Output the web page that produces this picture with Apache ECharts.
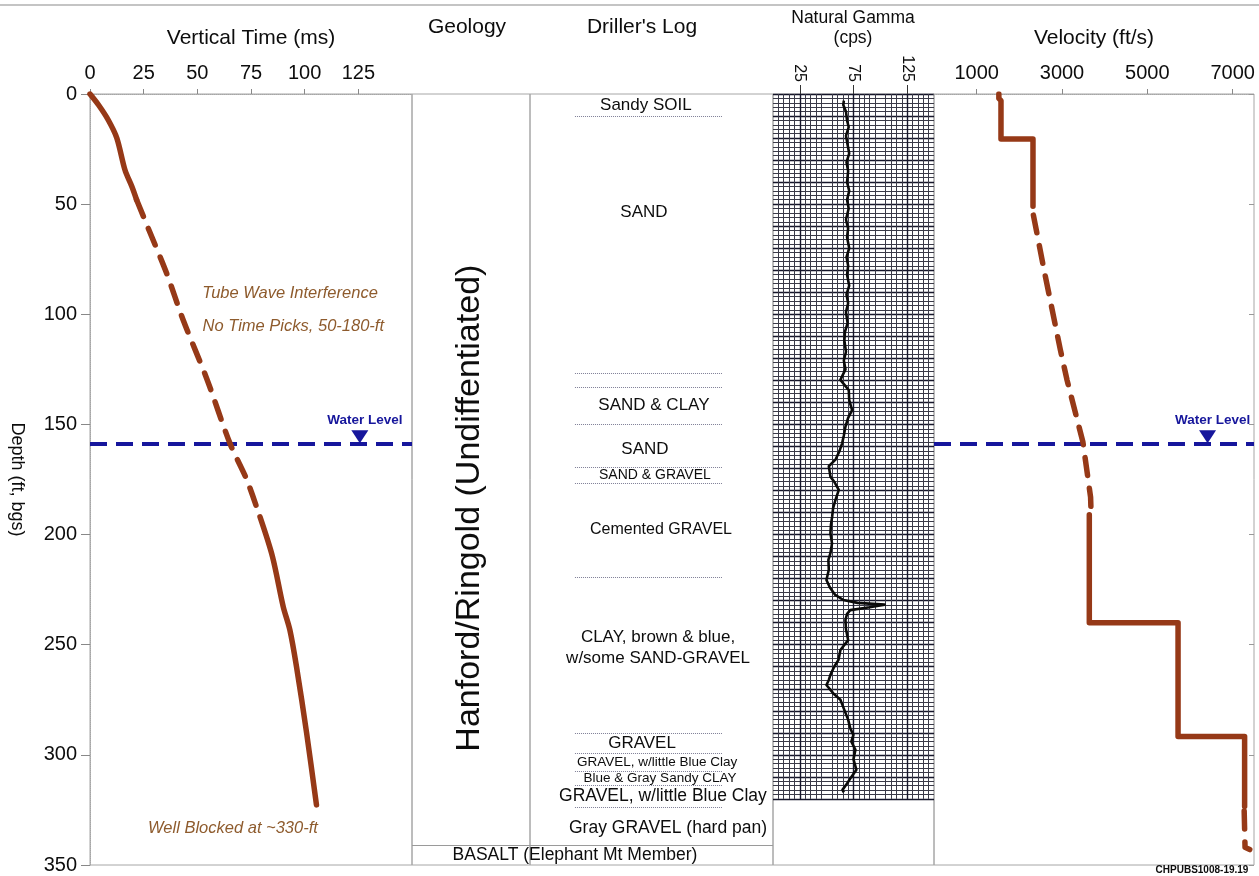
<!DOCTYPE html>
<html>
<head>
<meta charset="utf-8">
<script src="https://cdn.jsdelivr.net/npm/echarts@6/dist/echarts.min.js"></script>
<style>
  html, body { margin: 0; padding: 0; background: #ffffff; }
  #chart { width: 1259px; height: 876px; }
</style>
</head>
<body>
<div id="chart"></div>
<script>
// ---------------- data ----------------
const depthTicks = [0, 50, 100, 150, 200, 250, 300, 350];
const timeTicks = [0, 25, 50, 75, 100, 125];
const gammaTicks = [25, 75, 125];
const velocityTicks = [1000, 3000, 5000, 7000];

// vertical one-way time (ms) against depth (ft)
const timeDepthA = [0, 5, 11.8, 20, 34.5, 42, 48];
const timeA      = [0, 4, 8.5, 12.5, 16.3, 19.5, 21.7];
const timeDepthB = [48, 63, 81.4, 102.6, 129, 158.6, 175, 191];
const timeB      = [21.7, 28, 35.7, 43.4, 54.3, 65.2, 73, 78.8];
const timeDepthC = [192, 210, 232.7, 243.3, 260, 290, 322.7];
const timeC      = [79.2, 85, 90, 93.1, 96.2, 100.9, 105.5];

// interval velocity (ft/s) against depth (ft)
const velDepthA = [0, 2, 3, 20.4, 20.4, 51];
const velA      = [1520, 1520, 1570, 1570, 2320, 2320];
const velDepthB = [55, 79, 116, 130, 158, 183, 189];
const velB      = [2330, 2570, 2960, 3120, 3490, 3670, 3680];
const velDepthC = [191, 240, 240, 291.7, 291.7, 323.5];
const velC      = [3640, 3640, 5720, 5720, 7280, 7280];
const velDepthD = [325.5, 342, 343];
const velD      = [7270, 7290, 7400];

// natural gamma (cps) against depth (ft)
const gammaDepth = [3, 5, 8, 12, 15, 19, 23, 27, 31, 35, 40, 44, 48, 52, 57, 61, 65, 70, 74, 78,
  82, 87, 91, 95, 99, 104, 108, 112, 117, 121, 125, 129.8, 134.4, 139, 143.5, 147, 151, 155, 158.6,
  162, 166, 169, 173.7, 176, 179.7, 184.3, 188, 191.9, 195.5, 199.4, 204, 208.4, 211.5, 216, 220.6,
  224, 227.4, 229.7, 231, 231.8, 233, 234.3, 236, 238.8, 243, 247.9, 252.4, 256.9, 260, 263.7, 266,
  268.3, 272, 275, 279, 284, 288, 290.9, 294, 297.7, 302, 306.8, 310, 313, 315.9, 317];
const gammaCps = [66, 65.5, 68, 69, 70.5, 68, 69.5, 71, 68.5, 70, 69, 71, 69, 70.5, 68, 70, 69, 71, 68.5, 70,
  69, 71, 68.5, 70, 68, 69.5, 67, 66.5, 68, 66, 67.5, 62.8, 70.6, 71, 73.7, 70, 67.5, 66, 64.4,
  62, 58.2, 52, 53.5, 57, 61.3, 58.2, 56, 55.1, 54, 53.5, 55, 53.5, 51.6, 52, 49.8,
  53, 58, 65.6, 78.7, 104, 90, 72, 69, 67.5, 68, 70, 62.8, 61, 57, 53.5, 52,
  49.8, 56, 62.8, 66, 70, 72, 74.9, 73, 76.8, 75, 77.7, 73, 69, 64.7, 66];

const waterLevelDepth = 158.8;
const basaltTopDepth = 341.2;

// driller's log
const logBoundaries = [10.3, 126.8, 132.9, 149.8, 169.6, 176.7, 219.2, 290.2, 299.3, 307.3, 313.7, 323.8];
const logNames = ['Sandy SOIL', 'SAND', 'SAND & CLAY', 'SAND', 'SAND & GRAVEL', 'Cemented GRAVEL',
  'CLAY, brown & blue,\nw/some SAND-GRAVEL', 'GRAVEL', 'GRAVEL, w/little Blue Clay',
  'Blue & Gray Sandy CLAY', 'GRAVEL, w/little Blue Clay', 'Gray GRAVEL (hard pan)',
  'BASALT (Elephant Mt Member)'];
const logNameDepths = [5, 53.6, 141.2, 161.1, 173, 197.9, 251.5, 294.6, 303.2, 310.5, 318.7, 333.2, 345.4];
const geologyUnit = 'Hanford/Ringold (Undiffentiated)';

const timeNotes = ['Tube Wave Interference', 'No Time Picks, 50-180-ft', 'Well Blocked at ~330-ft'];

// ---------------- layout / style ----------------
const FONT = '"Liberation Sans", Arial, sans-serif';
const INK = '#0d0d0d';
const CURVE = '#963917';
const WATER = '#16169c';
const NOTE = '#8e5b2d';
const FRAME = '#a6a6a6';

const TOP = 94, H = 771;
const P = {
  time:  { left: 90,  width: 322 },
  geo:   { left: 412, width: 118 },
  log:   { left: 530, width: 243 },
  gamma: { left: 773, width: 161 },
  vel:   { left: 934, width: 320 }
};
const GAMMA_PAPER_DEPTH = 320;

// text placement inside panels (axis units)
const logLabelX = [0.477, 0.469, 0.51, 0.473, 0.514, 0.539, 0.527, 0.461, 0.523, 0.535, 0.547, 0.568, 0.185];
const logLabelSize = [17, 17, 17, 17, 14, 16, 17, 17, 13.5, 13.5, 17.5, 17.5, 17.5];
const notePos = [[93.2, 90.3], [94.7, 105.3], [66.6, 333.2]];
const geoLabelPos = [0.49, 188];
const waterMarkTime = 125.7, waterMarkVel = 6412;

const pts = (xs, ds) => xs.map((x, i) => [x, ds[i]]);
const plain = v => String(v);

function grid(p, extra) {
  return Object.assign({
    left: p.left, width: p.width, top: TOP, height: H,
    show: true, borderColor: FRAME, borderWidth: 1, backgroundColor: 'transparent',
    containLabel: false, outerBoundsMode: 'none'
  }, extra || {});
}

const hiddenX = gi => ({ type: 'value', gridIndex: gi, min: 0, max: 1, show: false });
const hiddenDepth = gi => ({ type: 'value', gridIndex: gi, min: 0, max: 350, inverse: true, show: false });

const topAxisBase = {
  type: 'value', position: 'top',
  axisLine: { show: true, lineStyle: { color: FRAME, width: 1, type: 'dotted' } },
  axisTick: { show: true, length: 5, lineStyle: { color: '#888' } },
  axisLabel: { color: INK, fontFamily: FONT, fontSize: 20, margin: 11, formatter: plain },
  splitLine: { show: false },
  nameTextStyle: { color: INK, fontFamily: FONT, fontSize: 21 }
};

// smoothing only for the continuous travel-time curve; velocity stays stepped
const lineSeries = (name, xi, yi, data, dashed, smooth) => ({
  name, type: 'line', xAxisIndex: xi, yAxisIndex: yi, data,
  showSymbol: false, symbol: 'none', z: 4, silent: true, animation: false,
  smooth: smooth ? 0.3 : false,
  lineStyle: { color: CURVE, width: 5.5, cap: 'round', join: 'round', type: dashed ? [18, 13] : 'solid' }
});

const textScatter = extra => Object.assign({
  type: 'scatter', symbolSize: 0, silent: true, z: 6, animation: false,
  itemStyle: { opacity: 1 }
}, extra);

const waterSeries = (xi, yi, x) => ({
  type: 'scatter', xAxisIndex: xi, yAxisIndex: yi, z: 3, silent: true, animation: false,
  data: [[x, waterLevelDepth]],
  symbol: 'triangle', symbolRotate: 180, symbolSize: [17, 13], symbolOffset: [0, -7],
  itemStyle: { color: WATER, opacity: 1 },
  label: { show: true, formatter: 'Water Level', position: 'top', distance: 3, offset: [5, 0],
    color: WATER, fontFamily: FONT, fontSize: 13.5, fontWeight: 'bold' },
  markLine: {
    silent: true, symbol: ['none', 'none'], animation: false, z: 2,
    label: { show: false },
    lineStyle: { color: WATER, width: 4, type: [17, 9] },
    data: [{ yAxis: waterLevelDepth }]
  }
});

const chart = echarts.init(document.getElementById('chart'), null, { renderer: 'canvas' });

const option = {
  backgroundColor: '#ffffff',
  animation: false,
  textStyle: { fontFamily: FONT },
  grid: [
    grid(P.time),                                   // 0 vertical time
    grid(P.geo),                                    // 1 geology
    grid(P.log),                                    // 2 driller's log
    grid(P.gamma),                                  // 3 gamma frame
    grid(P.gamma, { show: false, height: H * GAMMA_PAPER_DEPTH / 350 }), // 4 gamma log paper
    grid(P.vel)                                     // 5 velocity
  ],
  xAxis: [
    Object.assign({}, topAxisBase, {
      gridIndex: 0, min: 0, max: 150, interval: 25,
      axisLabel: Object.assign({}, topAxisBase.axisLabel, { showMaxLabel: false }),
      axisTick: Object.assign({}, topAxisBase.axisTick, { customValues: timeTicks }),
      name: 'Vertical Time (ms)', nameLocation: 'middle', nameGap: 45
    }),
    hiddenX(1),
    hiddenX(2),
    hiddenX(3),
    Object.assign({}, topAxisBase, {
      gridIndex: 4, min: 0, max: 150, interval: 25,
      axisLine: { show: false },
      axisTick: { show: true, length: 9, customValues: gammaTicks, lineStyle: { color: '#333' } },
      axisLabel: { color: INK, fontFamily: FONT, fontSize: 16, rotate: -90, margin: 12, customValues: gammaTicks },
      splitLine: { show: true, lineStyle: { color: '#15152a', width: 1.4 } },
      minorTick: { show: false, splitNumber: 5 },
      minorSplitLine: { show: true, lineStyle: { color: '#3a3a48', width: 1 } }
    }),
    Object.assign({}, topAxisBase, {
      gridIndex: 5, min: 0, max: 7500,
      axisLabel: Object.assign({}, topAxisBase.axisLabel, { customValues: velocityTicks }),
      axisTick: Object.assign({}, topAxisBase.axisTick, { customValues: velocityTicks }),
      name: 'Velocity (ft/s)', nameLocation: 'middle', nameGap: 45
    })
  ],
  yAxis: [
    {
      type: 'value', gridIndex: 0, min: 0, max: 350, interval: 50, inverse: true,
      axisLine: { show: true, lineStyle: { color: FRAME, type: 'dotted' } },
      axisTick: { show: true, length: 9, customValues: depthTicks, lineStyle: { color: '#888' } },
      axisLabel: { color: INK, fontFamily: FONT, fontSize: 20, margin: 13 },
      splitLine: { show: false },
      name: 'Depth (ft, bgs)', nameLocation: 'middle', nameRotate: -90, nameGap: 64,
      nameTextStyle: { color: INK, fontFamily: FONT, fontSize: 18 }
    },
    hiddenDepth(1),
    hiddenDepth(2),
    hiddenDepth(3),
    {
      type: 'value', gridIndex: 4, min: 0, max: GAMMA_PAPER_DEPTH, interval: 10, inverse: true,
      axisLine: { show: false }, axisTick: { show: false }, axisLabel: { show: false },
      splitLine: { show: true, lineStyle: { color: '#15152a', width: 1.4 } },
      minorTick: { show: false, splitNumber: 5 },
      minorSplitLine: { show: true, lineStyle: { color: '#3a3a48', width: 1 } }
    },
    hiddenDepth(5),
    {
      type: 'value', gridIndex: 5, min: 0, max: 350, interval: 50, inverse: true, position: 'right',
      axisLine: { show: false },
      axisTick: { show: true, inside: true, length: 5, lineStyle: { color: '#999' } },
      axisLabel: { show: false }, splitLine: { show: false }
    }
  ],
  series: [
    // vertical time curve
    lineSeries('time picks', 0, 0, pts(timeA, timeDepthA), false, true),
    lineSeries('time, no picks', 0, 0, pts(timeB, timeDepthB), true, true),
    lineSeries('time picks deep', 0, 0, pts(timeC, timeDepthC), false, true),
    waterSeries(0, 0, waterMarkTime),
    textScatter({
      xAxisIndex: 0, yAxisIndex: 0,
      data: timeNotes.map((t, i) => ({ name: t, value: notePos[i] })),
      label: { show: true, position: 'inside', formatter: '{b}', color: NOTE, fontFamily: FONT,
        fontSize: 16.5, fontStyle: 'italic' }
    }),
    // geology column
    textScatter({
      xAxisIndex: 1, yAxisIndex: 1,
      data: [{ name: geologyUnit, value: geoLabelPos }],
      label: { show: true, position: 'inside', formatter: '{b}', rotate: 90, color: INK,
        fontFamily: FONT, fontSize: 34 },
      markLine: {
        silent: true, symbol: ['none', 'none'], label: { show: false },
        lineStyle: { color: '#9a9a9a', width: 1, type: 'solid' },
        data: [{ yAxis: basaltTopDepth }]
      }
    }),
    // driller's log
    {
      type: 'lines', coordinateSystem: 'cartesian2d', xAxisIndex: 2, yAxisIndex: 2, silent: true,
      polyline: false,
      lineStyle: { color: '#7e7e96', width: 1, type: 'dotted', opacity: 1 },
      data: logBoundaries.map(d => ({ coords: [[0.185, d], [0.79, d]] }))
    },
    textScatter({
      xAxisIndex: 2, yAxisIndex: 2,
      data: logNames.map((n, i) => ({
        name: n, value: [logLabelX[i], logNameDepths[i]],
        label: { fontSize: logLabelSize[i], lineHeight: 21 }
      })),
      label: { show: true, position: 'inside', formatter: '{b}', color: INK, fontFamily: FONT, fontSize: 17 },
      markLine: {
        silent: true, symbol: ['none', 'none'], label: { show: false },
        lineStyle: { color: '#9a9a9a', width: 1, type: 'solid' },
        data: [{ yAxis: basaltTopDepth }]
      }
    }),
    // natural gamma
    {
      name: 'natural gamma', type: 'line', xAxisIndex: 4, yAxisIndex: 4, silent: true, z: 5,
      showSymbol: false, symbol: 'none',
      lineStyle: { color: '#0a0a0a', width: 2.6, join: 'round' },
      data: pts(gammaCps, gammaDepth)
    },
    // velocity
    lineSeries('velocity', 5, 5, pts(velA, velDepthA), false, false),
    lineSeries('velocity, no picks', 5, 5, pts(velB, velDepthB), true, false),
    lineSeries('velocity deep', 5, 5, pts(velC, velDepthC), false, false),
    lineSeries('velocity blocked', 5, 5, pts(velD, velDepthD), true, false),
    waterSeries(5, 5, waterMarkVel)
  ],
  graphic: [
    { type: 'line', shape: { x1: 0, y1: 5, x2: 1259, y2: 5 }, style: { stroke: '#8a8a8a', lineWidth: 1.2 }, silent: true },
    { type: 'text', x: 467, y: 27, style: { text: 'Geology', fill: INK, font: '21px ' + FONT, align: 'center', verticalAlign: 'middle' } },
    { type: 'text', x: 642, y: 27, style: { text: "Driller's Log", fill: INK, font: '21px ' + FONT, align: 'center', verticalAlign: 'middle' } },
    { type: 'text', x: 853, y: 18, style: { text: 'Natural Gamma', fill: INK, font: '17.5px ' + FONT, align: 'center', verticalAlign: 'middle' } },
    { type: 'text', x: 853, y: 38, style: { text: '(cps)', fill: INK, font: '17.5px ' + FONT, align: 'center', verticalAlign: 'middle' } },
    { type: 'text', x: 1202, y: 870, style: { text: 'CHPUBS1008-19.19', fill: INK, font: 'bold 10px ' + FONT, align: 'center', verticalAlign: 'middle' } }
  ]
};

chart.setOption(option);
</script>
</body>
</html>
